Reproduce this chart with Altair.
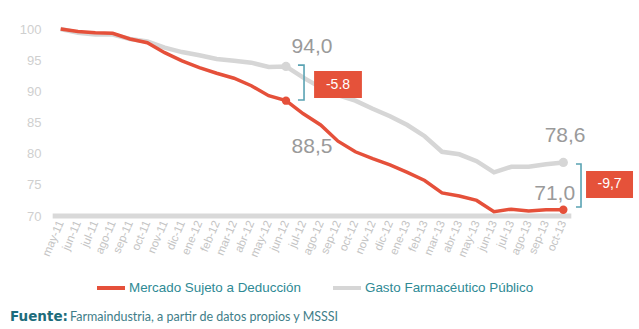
import altair as alt
import pandas as pd

# ---- data ----
months = ["may-11", "jun-11", "jul-11", "ago-11", "sep-11", "oct-11", "nov-11", "dic-11",
          "ene-12", "feb-12", "mar-12", "abr-12", "may-12", "jun-12", "jul-12", "ago-12",
          "sep-12", "oct-12", "nov-12", "dic-12", "ene-13", "feb-13", "mar-13", "abr-13",
          "may-13", "jun-13", "jul-13", "ago-13", "sep-13", "oct-13"]

mercado = [100.0, 99.6, 99.4, 99.3, 98.4, 97.8, 96.2, 94.9, 93.8, 92.9, 92.1, 90.9, 89.3, 88.5,
           86.4, 84.6, 82.0, 80.3, 79.2, 78.2, 77.0, 75.7, 73.7, 73.2, 72.5, 70.7, 71.1, 70.8,
           71.0, 71.0]
gasto = [100.0, 99.4, 99.1, 99.1, 98.4, 98.0, 97.0, 96.3, 95.8, 95.2, 94.9, 94.6, 93.9, 94.0,
         92.2, 90.6, 89.4, 88.5, 87.2, 86.0, 84.6, 82.8, 80.3, 79.9, 78.8, 77.0, 77.9, 77.9,
         78.3, 78.6]

series_names = ["Mercado Sujeto a Deducción", "Gasto Farmacéutico Público"]
series_colors = ["#e5503a", "#d6d6d6"]

y_ticks = [70, 75, 80, 85, 90, 95, 100]
highlight_idx = [13, 29]

ann_text = ["94,0", "88,5", "78,6", "71,0"]
ann_x = [14.5, 14.5, 29.1, 28.5]
ann_y = [96.2, 80.1, 81.9, 72.6]

box_text = ["-5.8", "-9,7"]
box_x = [14.62, 30.31]
box_x2 = [17.38, 33.02]
box_y = [93.26, 77.22]
box_y2 = [88.93, 72.89]

bracket_id = ["a", "a", "a", "a", "b", "b", "b", "b"]
bracket_ord = [0, 1, 2, 3, 0, 1, 2, 3]
bracket_x = [13.69, 14.04, 14.04, 13.69, 29.73, 30.02, 30.02, 29.73]
bracket_y = [94.2, 94.2, 88.6, 88.6, 78.34, 78.34, 71.44, 71.44]

# ---- tables ----
rows = []
for name, vals in zip(series_names, [mercado, gasto]):
    for i, v in enumerate(vals):
        rows.append({"i": i, "v": v, "serie": name})
df = pd.DataFrame(rows)
pts = df[df["i"].isin(highlight_idx)]

ann = pd.DataFrame({"t": ann_text, "x": ann_x, "y": ann_y})
boxes = pd.DataFrame({"t": box_text, "x": box_x, "x2": box_x2, "y": box_y, "y2": box_y2,
                      "xc": [(a + b) / 2 for a, b in zip(box_x, box_x2)],
                      "yc": [(a + b) / 2 for a, b in zip(box_y, box_y2)]})
brackets = pd.DataFrame({"id": bracket_id, "o": bracket_ord, "x": bracket_x, "y": bracket_y})
base_df = pd.DataFrame({"x": [-0.46], "x2": [29.46], "y": [70]})

label_expr = "[" + ",".join("'%s'" % m for m in months) + "][datum.value]"

xscale = alt.Scale(domain=[-0.5, 29.5], nice=False, zero=False)
yscale = alt.Scale(domain=[70, 100], nice=False, zero=False)

xaxis = alt.Axis(values=list(range(len(months))), labelExpr=label_expr, labelAngle=-67,
                 labelAlign="right", labelBaseline="middle", labelColor="#c4c4c4",
                 labelFontSize=11.5, labelFont="Liberation Sans", labelPadding=5,
                 labelOverlap=False, labelFlush=False,
                 domain=False, ticks=False, grid=False, title=None)
yaxis = alt.Axis(values=y_ticks, labelColor="#cfcfcf", labelFontSize=13,
                 labelFont="Liberation Sans", labelPadding=11, domain=False, ticks=False,
                 labelOverlap=False, labelFlush=False,
                 grid=False, title=None)


def X(f):
    return alt.X(f, scale=xscale, axis=xaxis)


def Y(f):
    return alt.Y(f, scale=yscale, axis=yaxis)


color = alt.Color("serie:N", scale=alt.Scale(domain=series_names, range=series_colors),
                  legend=alt.Legend(orient="none", legendX=43, legendY=243, direction="horizontal",
                                    title=None, symbolType="stroke", symbolSize=784,
                                    symbolStrokeWidth=4, labelFontSize=13.4,
                                    labelFont="Liberation Sans", labelColor="#2e8a95",
                                    labelOffset=2, columnPadding=24, labelLimit=400))

baseline = alt.Chart(base_df).mark_rule(strokeWidth=5, color="#d9d9d9").encode(
    x=X("x:Q"), x2="x2:Q", y=Y("y:Q"))

gray_line = alt.Chart(df[df["serie"] == series_names[1]]).mark_line(strokeWidth=4.5).encode(
    x=X("i:Q"), y=Y("v:Q"), color=color)
red_line = alt.Chart(df[df["serie"] == series_names[0]]).mark_line(strokeWidth=3.5).encode(
    x=X("i:Q"), y=Y("v:Q"), color=color)

gray_pts = alt.Chart(pts[pts["serie"] == series_names[1]]).mark_circle(
    size=85, opacity=1, color=series_colors[1]).encode(x=X("i:Q"), y=Y("v:Q"))
red_pts = alt.Chart(pts[pts["serie"] == series_names[0]]).mark_circle(
    size=70, opacity=1, color=series_colors[0]).encode(x=X("i:Q"), y=Y("v:Q"))

ann_text_l = alt.Chart(ann).mark_text(fontSize=21, font="Liberation Sans", color="#9a9a9a",
                                      align="center", baseline="alphabetic").encode(
    x=X("x:Q"), y=Y("y:Q"), text="t:N")

bracket_l = alt.Chart(brackets).mark_line(strokeWidth=1.6, color="#5aa3b3").encode(
    x=X("x:Q"), y=Y("y:Q"), detail="id:N", order="o:Q")

box_l = alt.Chart(boxes).mark_rect(color="#e5523a").encode(
    x=X("x:Q"), x2="x2:Q", y=Y("y:Q"), y2="y2:Q")
box_t = alt.Chart(boxes).mark_text(fontSize=14, font="Liberation Sans", color="white",
                                   align="center", baseline="middle").encode(
    x=X("xc:Q"), y=Y("yc:Q"), text="t:N")

src_df = pd.DataFrame({"a": ["Fuente:"], "b": ["Farmaindustria, a partir de datos propios y MSSSI"]})
src_a = alt.Chart(src_df).mark_text(align="left", baseline="middle", font="DejaVu Sans",
                                    fontWeight="bold", fontSize=13.5, color="#1d6c7b").encode(
    x=alt.value(-42), y=alt.value(288), text="a:N")
src_b = alt.Chart(src_df).mark_text(align="left", baseline="middle", font="Lato",
                                    fontSize=12.5, color="#3f7e89").encode(
    x=alt.value(18), y=alt.value(288), text="b:N")

chart = alt.layer(baseline, gray_line, red_line, gray_pts, red_pts, bracket_l, box_l, box_t,
                  ann_text_l, src_a, src_b).properties(
    width=520, height=187,
    autosize=alt.AutoSizeParams(type="none"),
    padding={"left": 52, "top": 29, "right": 67, "bottom": 113},
).configure_view(stroke=None)

chart.save("out.html", embed_options={"renderer": "svg", "actions": False})
